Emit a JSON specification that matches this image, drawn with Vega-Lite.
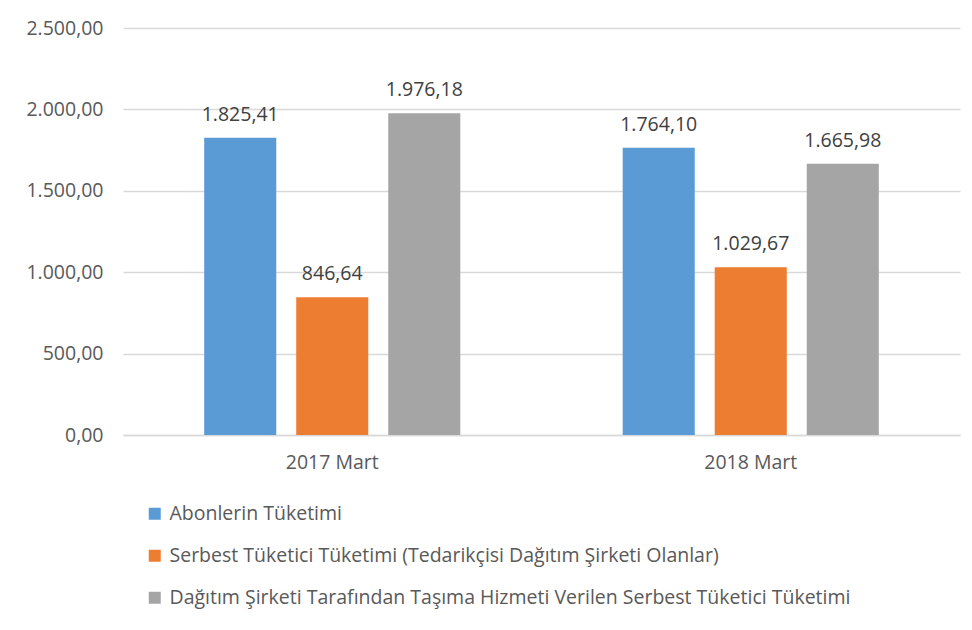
{
  "$schema": "https://vega.github.io/schema/vega-lite/v6.json",
  "autosize": "none",
  "width": 837,
  "height": 407,
  "padding": {"left": 123, "top": 28, "right": 12, "bottom": 195},
  "background": "white",
  "config": {
    "locale": {"number": {"decimal": ",", "thousands": ".", "grouping": [3], "currency": ["", ""]}},
    "view": {"stroke": null},
    "font": "Open Sans"
  },
  "data": {
    "values": [
      {"donem": "2017 Mart", "seri": "Abonlerin Tüketimi", "sira": 1, "deger": 1825.41},
      {"donem": "2017 Mart", "seri": "Serbest Tüketici Tüketimi (Tedarikçisi Dağıtım Şirketi Olanlar)", "sira": 2, "deger": 846.64},
      {"donem": "2017 Mart", "seri": "Dağıtım Şirketi Tarafından Taşıma Hizmeti Verilen Serbest Tüketici Tüketimi", "sira": 3, "deger": 1976.18},
      {"donem": "2018 Mart", "seri": "Abonlerin Tüketimi", "sira": 1, "deger": 1764.10},
      {"donem": "2018 Mart", "seri": "Serbest Tüketici Tüketimi (Tedarikçisi Dağıtım Şirketi Olanlar)", "sira": 2, "deger": 1029.67},
      {"donem": "2018 Mart", "seri": "Dağıtım Şirketi Tarafından Taşıma Hizmeti Verilen Serbest Tüketici Tüketimi", "sira": 3, "deger": 1665.98}
    ]
  },
  "encoding": {
    "x": {
      "field": "donem", "type": "nominal",
      "scale": {"paddingInner": 0.388, "paddingOuter": 0.194},
      "axis": {"title": null, "labelAngle": 0, "labelFontSize": 19.5, "labelColor": "#595959", "labelPadding": 18, "ticks": false, "domainColor": "#d9d9d9", "domainWidth": 1.5}
    },
    "xOffset": {"field": "sira", "type": "ordinal", "scale": {"paddingInner": 0.217, "paddingOuter": 0}},
    "y": {
      "field": "deger", "type": "quantitative",
      "scale": {"domain": [0, 2500]},
      "axis": {"title": null, "values": [0, 500, 1000, 1500, 2000, 2500], "format": ",.2f", "labelFontSize": 19.5, "labelColor": "#595959", "labelPadding": 20, "ticks": false, "domain": false, "gridColor": "#d9d9d9", "gridWidth": 1.5}
    }
  },
  "layer": [
    {
      "mark": {"type": "bar"},
      "encoding": {
        "color": {
          "field": "seri", "type": "nominal",
          "sort": ["Abonlerin Tüketimi", "Serbest Tüketici Tüketimi (Tedarikçisi Dağıtım Şirketi Olanlar)", "Dağıtım Şirketi Tarafından Taşıma Hizmeti Verilen Serbest Tüketici Tüketimi"],
          "scale": {"range": ["#5b9bd5", "#ed7d31", "#a5a5a5"]},
          "legend": {
            "title": null, "orient": "none", "legendX": 22, "legendY": 476, "direction": "vertical",
            "symbolType": "square", "symbolSize": 144, "symbolStrokeWidth": 0,
            "labelFontSize": 19.5, "labelColor": "#595959", "labelLimit": 900, "rowPadding": 21, "labelOffset": 5
          }
        }
      }
    },
    {
      "mark": {"type": "text", "baseline": "alphabetic", "dy": -17, "fontSize": 19.5, "color": "#404040"},
      "encoding": {
        "text": {"field": "deger", "type": "quantitative", "format": ",.2f"}
      }
    }
  ]
}
